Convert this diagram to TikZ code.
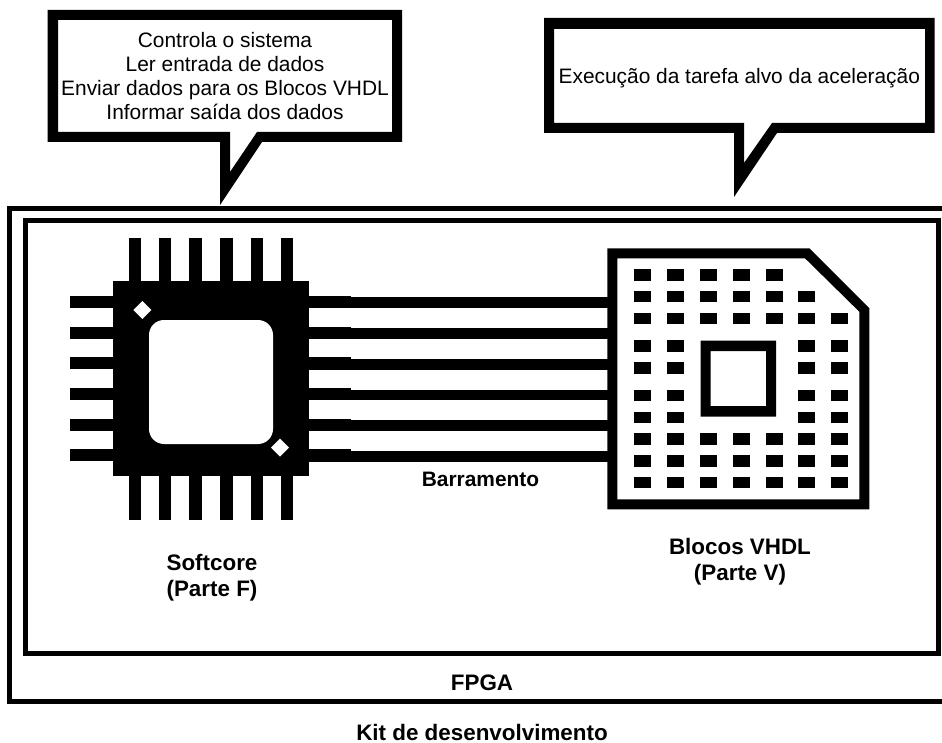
\documentclass[tikz,border=0pt]{standalone}
\usepackage{fontspec}
\setmainfont{Liberation Sans}
\tikzset{
  solid black/.style={fill=black,draw=none},
  frameline/.style={draw=black,fill=none,line width=5pt,line join=miter},
  busline/.style={draw=black,line width=10.7pt},
  plain label/.style={font=\fontsize{20.9}{24.2}\selectfont,align=center,inner sep=0pt,text=black},
  bold label/.style={font=\fontsize{22.4}{26.7}\selectfont\bfseries,align=center,inner sep=0pt,text=black}
}
\begin{document}
\begin{tikzpicture}[x=1pt,y=-1pt]
\useasboundingbox (0,0) rectangle (942,743);
\clip (0,0) rectangle (942,743);
\fill[white] (0,0) rectangle (942,743);
% frames
\path[frameline] (9.5,208.5) -- (960,208.5) (9.5,206) -- (9.5,701.8) -- (960,701.8);
\path[frameline] (25,220.5) rectangle (938.5,653.2);
% callouts
\fill[black,even odd rule] (47.5,10)--(402,10)--(402,142)--(262,142)--(220,205)--(220,142)--(47.5,142)--cycle
  (58,20)--(392,20)--(392,132)--(257,132)--(230,172)--(230,132)--(58,132)--cycle;
\fill[black,even odd rule] (544,18)--(934.7,18)--(934.7,133)--(777,133)--(734,197)--(734,133)--(544,133)--cycle
  (554,29)--(925,29)--(925,123)--(772,123)--(744,163)--(744,123)--(554,123)--cycle;
\node[plain label,anchor=base] (t1) at (225,120) {Controla o sistema\\Ler entrada de dados\\Enviar dados para os Blocos VHDL\\Informar saída dos dados};
\node[plain label,anchor=base] (t2) at (739.3,83.3) {Execução da tarefa alvo da aceleração};
% chip
\foreach \x in {135,165,195.7,226.3,257,287}{
  \fill[solid black] (\x-6.3,237.7) rectangle (\x+6.3,520);
}
\foreach \y in {302.3,332.7,363.3,394.3,424.7,455.3}{
  \fill[solid black] (70,\y-6) rectangle (351,\y+6);
}
\node[solid black,minimum width=196pt,minimum height=194.7pt,inner sep=0pt,outer sep=0pt] (chip) at (211.3,378.3) {};
\fill[white,rounded corners=15pt] (149,320) rectangle (273,444);
\fill[white] (142.3,301)--(151.3,310)--(142.3,319)--(133.3,310)--cycle;
\fill[white] (280,438.7)--(289,447.7)--(280,456.7)--(271,447.7)--cycle;
% blocks
\fill[black,even odd rule] (607.3,248.3)--(809.3,248.3)--(869.3,308.3)--(869.3,509.3)--(607.3,509.3)--cycle
  (617.3,258.3)--(805,258.3)--(859.3,311.7)--(859.3,499.3)--(617.3,499.3)--cycle;
\coordinate (blk) at (607.5,378);
\fill[black,even odd rule] (700.7,340.7) rectangle (776,416.7) (710.7,351) rectangle (766,406);
\newcommand{\pad}[2]{\fill[black] (#1-8.5,#2-5.7) rectangle (#1+8.5,#2+5.7);}
\foreach \y in {275,296.7,318.7,346,368,395.3,417.3,439,461,482.7}{
  \foreach \x in {642.7,675.7}{\pad{\x}{\y}}
}
\foreach \y in {296.7,318.7,346,368,395.3,417.3,439,461,482.7}{\pad{806.7}{\y}}
\foreach \y in {318.7,346,368,395.3,417.3,439,461,482.7}{\pad{839.7}{\y}}
\foreach \y in {275,296.7,318.7,439,461,482.7}{
  \foreach \x in {708.3,741,774}{\pad{\x}{\y}}
}
% bus
\foreach \y in {302.7,333.3,364.3,395,425.7,456.7}{
  \draw[busline] (chip.east |- 0,\y) -- (blk |- 0,\y);
}
% labels
\node[bold label,anchor=base,font=\fontsize{20.9}{25}\selectfont\bfseries] (bus) at (480.5,486.7) {Barramento};
\node[bold label,anchor=base] (soft) at (212,596.7) {Softcore\\(Parte F)};
\node[bold label,anchor=base] (vhdl) at (740,580.7) {Blocos VHDL\\(Parte V)};
\node[bold label,anchor=base] (fpga) at (482,690) {FPGA};
\node[bold label,anchor=base] (kit) at (482,740) {Kit de desenvolvimento};
\end{tikzpicture}
\end{document}
